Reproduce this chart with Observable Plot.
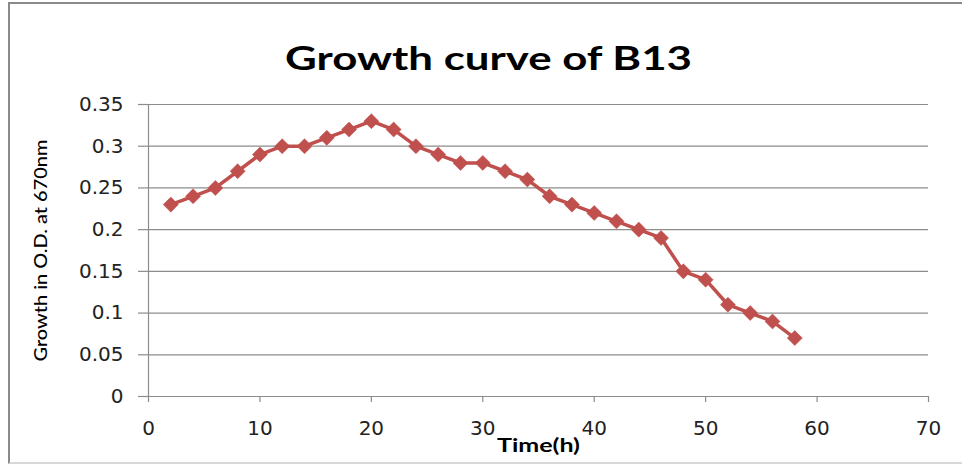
<!DOCTYPE html>
<html>
<head>
<meta charset="utf-8">
<script src="https://cdn.jsdelivr.net/npm/d3@7"></script>
<script src="https://cdn.jsdelivr.net/npm/@observablehq/plot@0.6"></script>
<style>
  html, body { margin: 0; padding: 0; background: #fff; }
  #wrap { position: relative; width: 962px; height: 464px; overflow: hidden; }
  #border { position: absolute; left: 8px; top: 2px; width: 960px; height: 458px;
            border-left: 2px solid #8a8a8a; border-top: 2px solid #8a8a8a;
            border-bottom: 2px solid #d8d8d8; pointer-events: none; }
  #wrap svg { position: absolute; left: 0; top: 0; }
</style>
</head>
<body>
<div id="wrap"><div id="border"></div></div>
<script>
const title = "Growth curve of B13";
const xLabel = "Time(h)";
const yLabel = "Growth in O.D. at 670nm";
const timeH = [2, 4, 6, 8, 10, 12, 14, 16, 18, 20, 22, 24, 26, 28, 30, 32, 34, 36, 38, 40, 42, 44, 46, 48, 50, 52, 54, 56, 58];
const od670 = [0.23, 0.24, 0.25, 0.27, 0.29, 0.30, 0.30, 0.31, 0.32, 0.33, 0.32, 0.30, 0.29, 0.28, 0.28, 0.27, 0.26, 0.24, 0.23, 0.22, 0.21, 0.20, 0.19, 0.15, 0.14, 0.11, 0.10, 0.09, 0.07];
const xTicks = [0, 10, 20, 30, 40, 50, 60, 70];
const yTicks = [0, 0.05, 0.1, 0.15, 0.2, 0.25, 0.3, 0.35];

const data = timeH.map((t, i) => ({t, od: od670[i]}));
const red = "#C0504D";
const grid = "#8c8c8c";

const chart = Plot.plot({
  width: 962,
  height: 464,
  marginLeft: 148,
  marginRight: 34,
  marginTop: 104,
  marginBottom: 68,
  style: {background: "transparent", color: "#1a1a1a", overflow: "visible"},
  x: {domain: [0, 70], ticks: xTicks, label: null},
  y: {domain: [0, 0.35], ticks: yTicks, label: null},
  marks: [
    Plot.gridY(yTicks, {stroke: grid, strokeOpacity: 1, strokeWidth: 1.2}),
    Plot.ruleX([0], {stroke: grid, strokeWidth: 1.2}),
    Plot.ruleY([0], {stroke: grid, strokeWidth: 1.2}),
    Plot.axisY(yTicks, {tickSize: 10, tickPadding: 15, stroke: grid, strokeWidth: 1.2,
      tickFormat: d => String(d), fontSize: 20, fontFamily: "DejaVu Sans", fill: "#222"}),
    Plot.axisX(xTicks, {tickSize: 6, tickPadding: 18, stroke: grid, strokeWidth: 1.2,
      tickFormat: d => String(d), fontSize: 20, fontFamily: "DejaVu Sans", fill: "#222"}),
    Plot.line(data, {x: "t", y: "od", stroke: red, strokeWidth: 3.5}),
    Plot.dot(data, {x: "t", y: "od", symbol: "square", r: 6, rotate: 45, fill: red, stroke: red, strokeWidth: 0.5}),
    Plot.text([title], {frameAnchor: "top", dx: -50, dy: -58, fontSize: 33, fontWeight: "bold", fontFamily: "Lato", fill: "#000"}),
    Plot.text([xLabel], {frameAnchor: "bottom", dy: 55, fontSize: 19.5, fontWeight: "bold", fontFamily: "Lato", fill: "#000"}),
    Plot.text([yLabel], {frameAnchor: "left", textAnchor: "middle", dx: -107, rotate: -90, fontSize: 17.5, fontWeight: 500, fontFamily: "Lato", fill: "#000"})
  ]
});

// stretch the Calibri-like texts to the reference's measured lengths
const lengths = new Map([[title, 407], [xLabel, 83], [yLabel, 222]]);
chart.querySelectorAll("text").forEach(el => {
  const L = lengths.get(el.textContent);
  if (L) { el.setAttribute("textLength", L); el.setAttribute("lengthAdjust", "spacingAndGlyphs"); }
});
document.getElementById("wrap").prepend(chart);
</script>
</body>
</html>
